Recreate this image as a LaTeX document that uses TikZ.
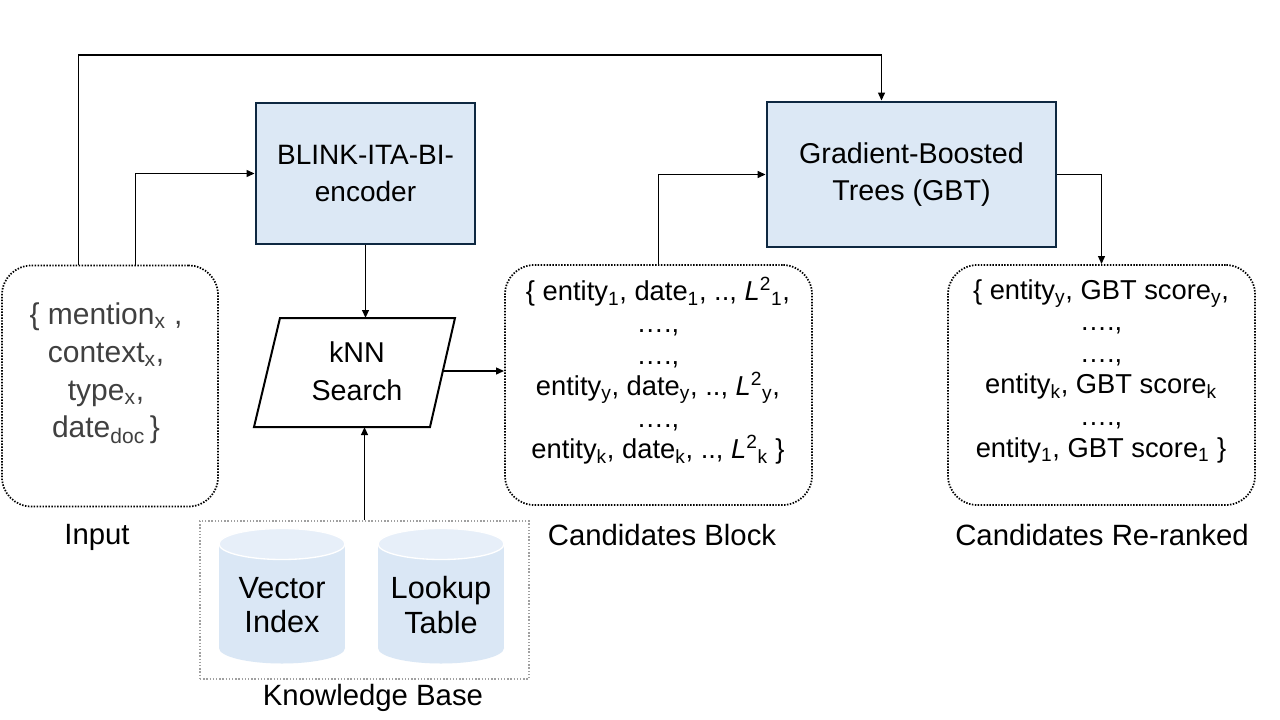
\documentclass[tikz,border=0pt]{standalone}
\usepackage{fontspec}
\setmainfont{Liberation Sans}
\usetikzlibrary{arrows.meta,calc}
\newlength\px \setlength\px{0.75pt}
\definecolor{boxblue}{HTML}{DCE8F5}
\definecolor{boxline}{HTML}{0E2841}
\definecolor{cylbody}{HTML}{DAE7F5}
\definecolor{cyltop}{HTML}{E7EFF9}
\definecolor{intext}{HTML}{404040}
\definecolor{kbline}{HTML}{A0A0A0}
\begin{document}
\begin{tikzpicture}[x=0.75pt,y=-0.75pt,
  procbox/.style={draw=boxline, line width=2pt, fill=boxblue, inner sep=0pt, align=center},
  dotbox/.style={draw=black, line width=1.3pt, dash pattern=on 1.1pt off 1.1pt, rounded corners=22pt, inner sep=0pt},
  conn/.style={line width=1.4pt, -{Triangle[length=6pt,width=5pt]}},
  lbl/.style={font=\fontsize{22}{26}\selectfont, inner sep=0pt},
  listtext/.style={align=center, inner sep=0pt, font=\fontsize{20.5}{23.7}\selectfont},
  cyltext/.style={align=center, inner sep=0pt, font=\fontsize{23}{26}\selectfont},
]
\fill[white] (0,0) rectangle (1280,720);
\useasboundingbox (0,0) rectangle (1280,720);

% process boxes
\node[procbox, minimum width=219\px, minimum height=141\px, font=\fontsize{21}{27.75}\selectfont] (blink) at (365.5,173.5) {BLINK-ITA-BI-\\encoder};
\node[procbox, minimum width=289\px, minimum height=145\px, font=\fontsize{21.5}{28}\selectfont] (gbt) at (911.5,174.5) {Gradient-Boosted\\Trees (GBT)};

% dotted rounded boxes
\node[dotbox, minimum width=216\px, minimum height=241\px] (in) at (110,386) {};
\node[dotbox, minimum width=307\px, minimum height=240\px] (cand) at (658.5,385) {};
\node[dotbox, minimum width=307\px, minimum height=240\px] (rer) at (1101.5,385) {};

% texts inside
\node[align=center, inner sep=0pt, text=intext, font=\fontsize{22.5}{28.3}\selectfont] (intxt) at (106,373.5)
  {\{ mention\textsubscript{x} ,\\ context\textsubscript{x},\\ type\textsubscript{x},\\ date\textsubscript{doc}\,\}};
\node[listtext] (candtxt) at (658,371)
  {\{ entity\textsubscript{1}, date\textsubscript{1}, .., \textit{L}\textsuperscript{2}\textsubscript{1},\\
   ….,\\ ….,\\
   entity\textsubscript{y}, date\textsubscript{y}, .., \textit{L}\textsuperscript{2}\textsubscript{y},\\
   ….,\\
   entity\textsubscript{k}, date\textsubscript{k}, .., \textit{L}\textsuperscript{2}\textsubscript{k} \}};
\node[listtext] (rertxt) at (1101,371)
  {\{ entity\textsubscript{y}, GBT score\textsubscript{y},\\
   ….,\\ ….,\\
   entity\textsubscript{k}, GBT score\textsubscript{k}\\
   ….,\\
   entity\textsubscript{1}, GBT score\textsubscript{1} \}};

% kNN parallelogram
\draw[line width=1.5pt, line join=miter] (280,318) -- (455,318) -- (430,427) -- (254,427) -- cycle;
\node[align=center, inner sep=0pt, font=\fontsize{21.5}{28.5}\selectfont] (knn) at (357,371) {kNN\\Search};
\coordinate (kt) at (365.5,318);
\coordinate (kbt) at (365,427);
\coordinate (kr) at (442.8,371);

% knowledge base
\node[draw=kbline, line width=1pt, dash pattern=on 1pt off 1.4pt, minimum width=329\px, minimum height=158\px, inner sep=0pt] (kb) at (364.5,600) {};
\foreach \cx in {282,441}{
  \fill[cylbody] (\cx-63,544) rectangle (\cx+63,648);
  \fill[cylbody] (\cx,648) ellipse[x radius=63\px, y radius=15.5\px];
  \draw[white, line width=1pt, fill=cyltop] (\cx,544) ellipse[x radius=63\px, y radius=15.5\px];
}
\node[cyltext] (vec) at (282,605) {Vector\\Index};
\node[cyltext] (look) at (441,605) {Lookup\\Table};

% labels
\node[lbl] (inlbl) at (97,537) {Input};
\node[lbl] (candlbl) at (662,535) {Candidates Block};
\node[lbl] (rerlbl) at (1102,535) {Candidates Re-ranked};
\node[lbl] (kblbl) at (373,698) {Knowledge Base};

% connectors
\draw[conn] ([xshift=-31.5\px]in.north) -- ++(0,-210) -| ([xshift=-30\px]gbt.north);
\draw[conn] ([xshift=25.5\px]in.north) |- (blink.west);
\draw[conn] (blink.south) -- (kt);
\draw[conn] (kb.north) -- (kb.north |- kbt);
\draw[conn] (kr) -- (kr -| cand.west);
\draw[conn] (cand.north) |- (gbt.west);
\draw[conn] (gbt.east) -| (rer.north);
\end{tikzpicture}
\end{document}
